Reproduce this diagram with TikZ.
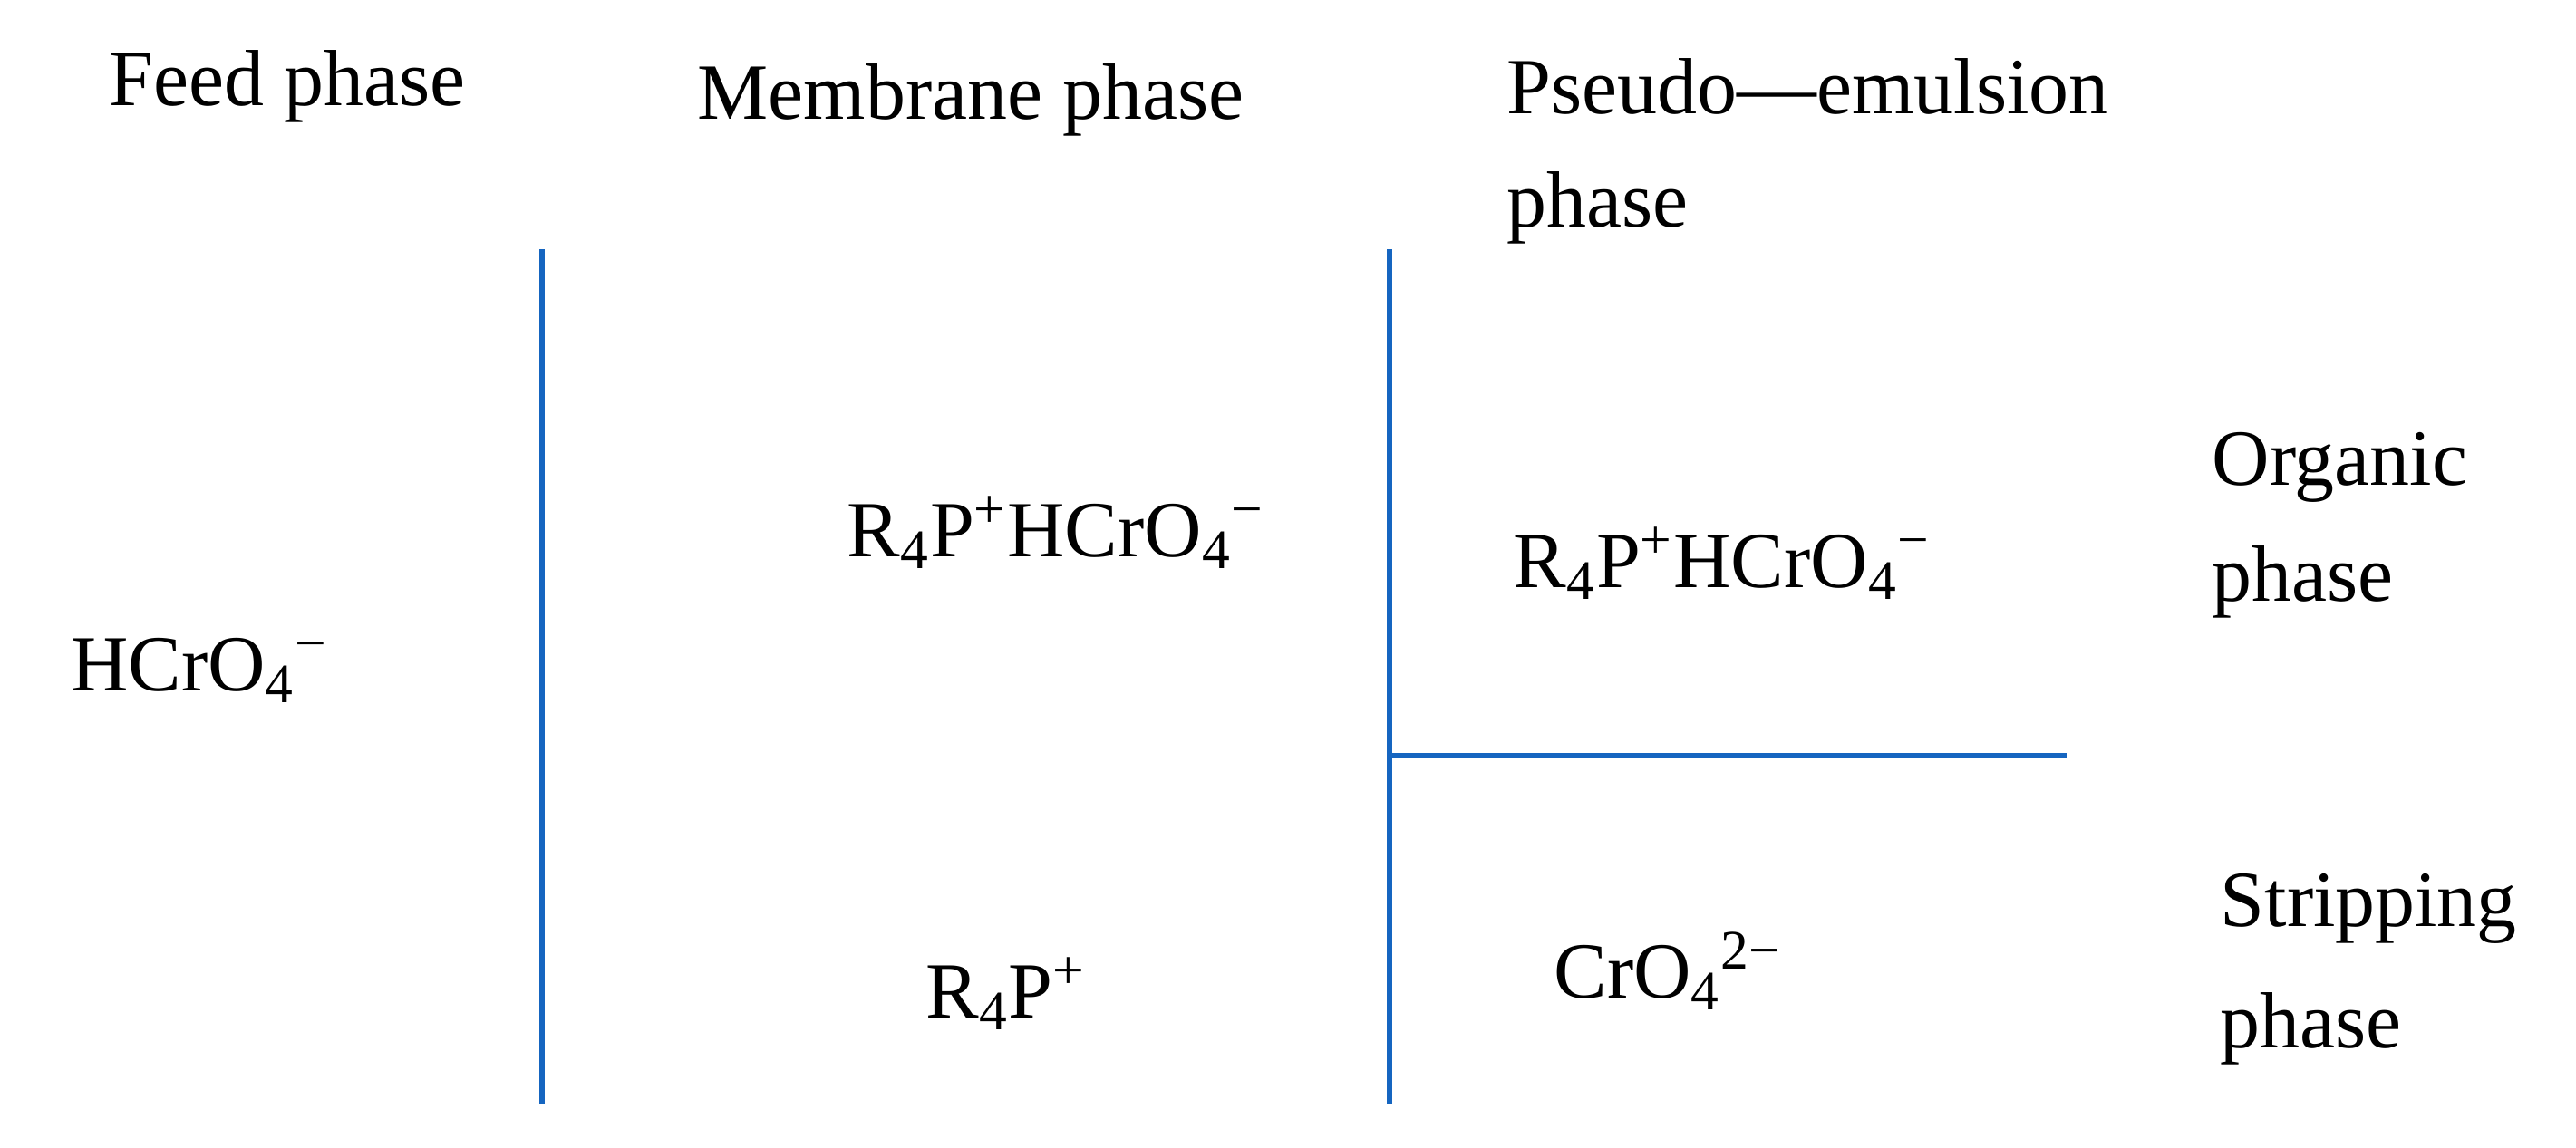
\documentclass[tikz,border=0pt]{standalone}
\usepackage{fontspec}
\setmainfont{Liberation Serif}
\begin{document}
\begin{tikzpicture}[x=1cm,y=1cm,
  lbl/.style={font=\fontsize{25}{30}\selectfont, inner sep=0pt},
  ln/.style={draw={rgb,255:red,21;green,101;blue,192}, line width=1.6pt}]
\useasboundingbox (0,0) rectangle (28.42,-12.66);
\node[lbl] (feed) at (3.17,-0.95) {Feed phase};
\node[lbl] (mem) at (10.71,-1.10) {Membrane phase};
\node[lbl,anchor=west] (ps1) at (16.62,-0.95) {Pseudo—emulsion};
\node[lbl,anchor=west] (ps2) at (16.62,-2.29) {phase};
\coordinate (v1a) at (5.98,-2.75); \coordinate (v1b) at (5.98,-12.18);
\coordinate (v2a) at (15.33,-2.75); \coordinate (v2b) at (15.33,-12.18);
\coordinate (h1) at (15.33,-8.34); \coordinate (h2) at (22.80,-8.34);
\draw[ln] (v1a) -- (v1b);
\draw[ln] (v2a) -- (v2b);
\draw[ln] (h1) -- (h2);
\node[lbl] (c1) at (11.65,-5.88) {R\textsubscript{4}P\textsuperscript{+}HCrO\textsubscript{4}\textsuperscript{−}};
\node[lbl] (c2) at (19.00,-6.22) {R\textsubscript{4}P\textsuperscript{+}HCrO\textsubscript{4}\textsuperscript{−}};
\node[lbl] (c3) at (2.20,-7.40) {HCrO\textsubscript{4}\textsuperscript{−}};
\node[lbl] (c4) at (11.10,-10.97) {R\textsubscript{4}P\textsuperscript{+}};
\node[lbl] (c5) at (18.40,-10.72) {CrO\textsubscript{4}\textsuperscript{2−}};
\node[lbl,anchor=west] (o1) at (24.40,-5.16) {Organic};
\node[lbl,anchor=west] (o2) at (24.40,-6.42) {phase};
\node[lbl,anchor=west] (s1) at (24.49,-10.03) {Stripping};
\node[lbl,anchor=west] (s2) at (24.49,-11.35) {phase};
\end{tikzpicture}
\end{document}
